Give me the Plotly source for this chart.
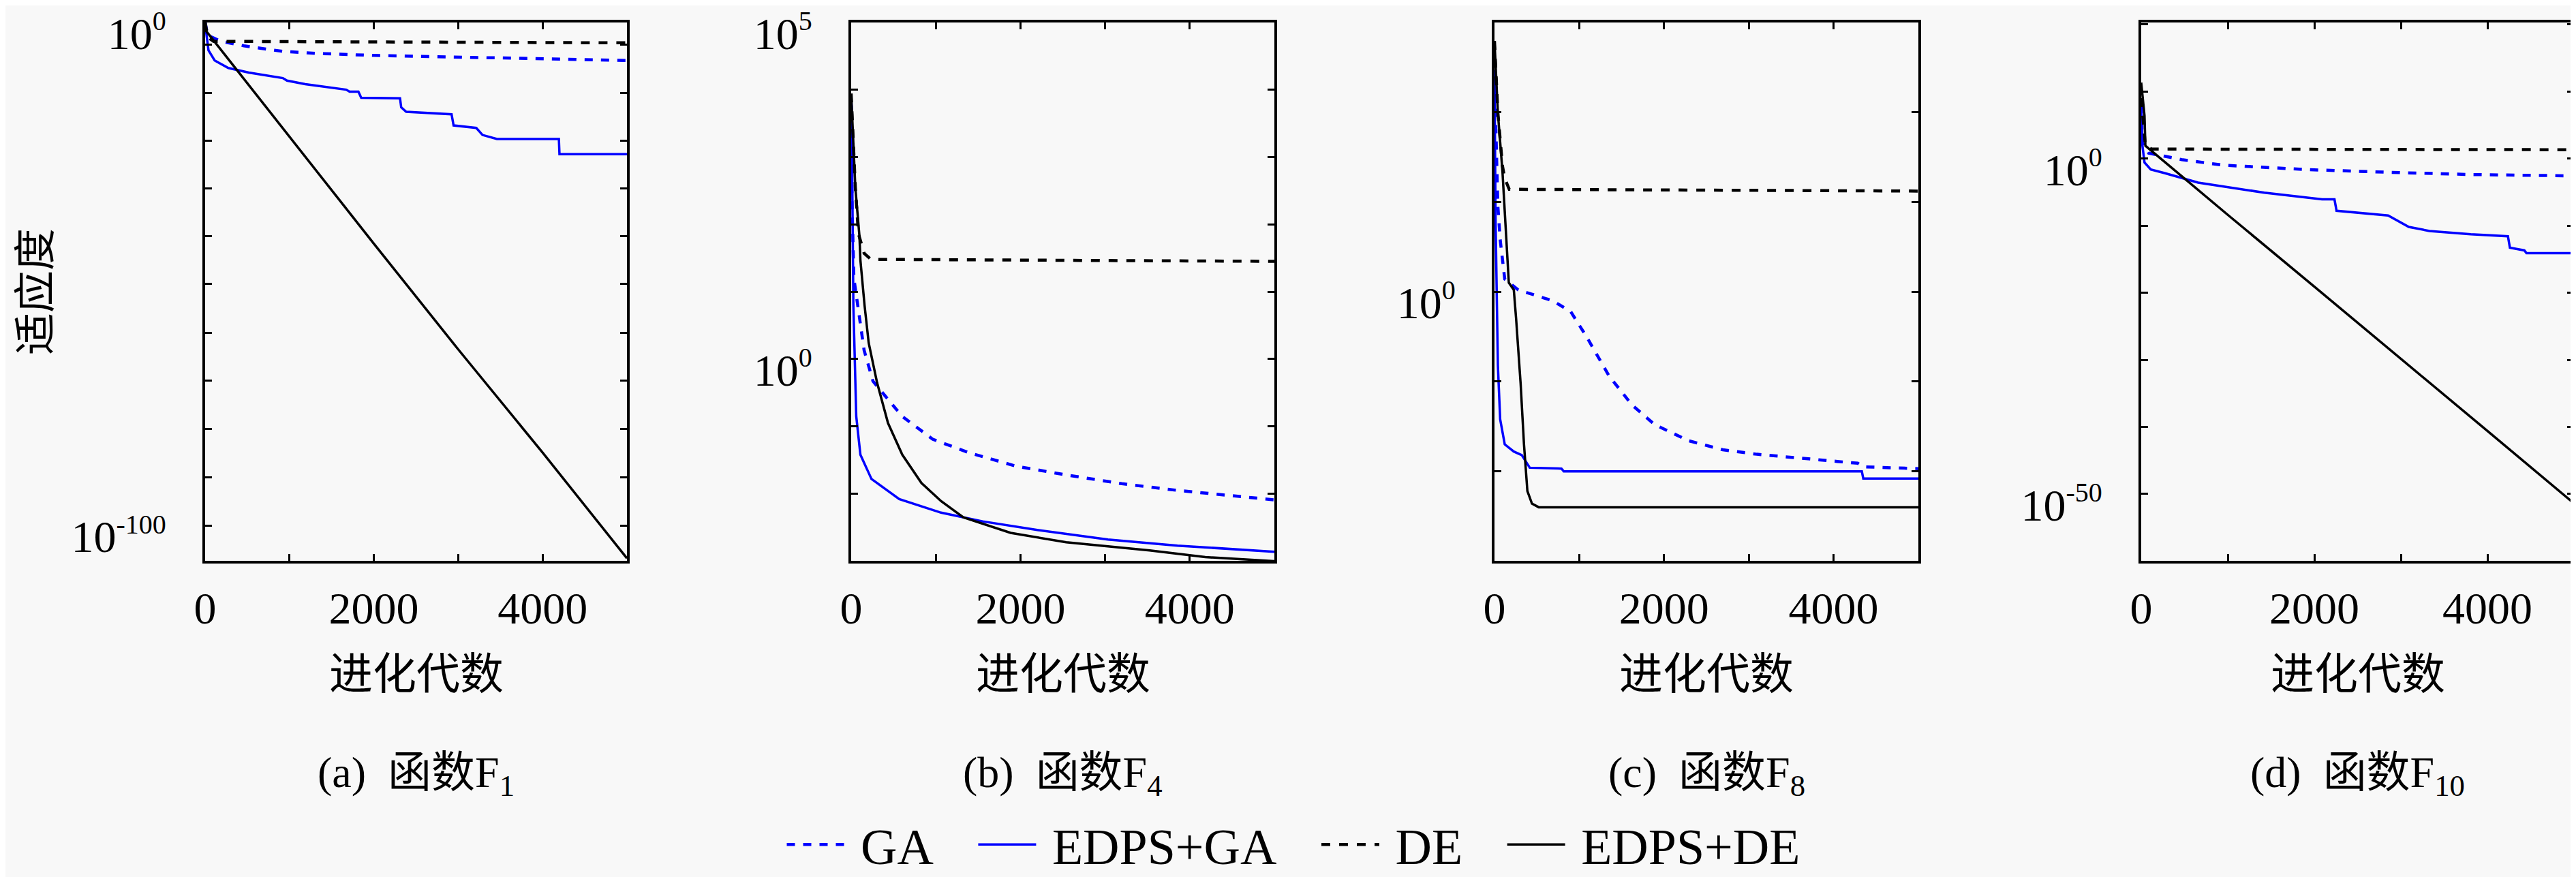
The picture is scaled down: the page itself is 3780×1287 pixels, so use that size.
import plotly.graph_objects as go
from plotly.subplots import make_subplots

# 收敛曲线, 纵坐标按 log10(适应度) 从原图读出
# (a) 函数F1
a_ga_x = [0, 30, 190, 460, 920, 1330, 2000, 3000, 4000, 5000]
a_ga_e = [0, -2.6, -3.8, -4.7, -5.8, -6.2, -6.6, -6.9, -7.2, -7.6]
a_edga_x = [0, 40, 113, 275, 517, 921, 970, 1187, 1672, 1712, 1817, 1850, 2310, 2324,
            2383, 2900, 2921, 2945, 3214, 3288, 3459, 4193, 4200, 5000]
a_edga_e = [-0.3, -5.6, -7.6, -9.1, -10.0, -11.1, -11.6, -12.3, -13.4, -13.8, -13.8, -15.0,
            -15.1, -16.9, -17.8, -18.3, -18.3, -20.5, -21.0, -22.4, -23.2, -23.2, -26.2, -26.2]
a_de_x = [0, 30, 100, 2500, 5000]
a_de_e = [0, -3.0, -3.8, -3.9, -4.1]
a_edde_x = [0, 1000, 2000, 3000, 4000, 5000]
a_edde_e = [-1.5, -22.8, -44.0, -65.0, -85.5, -106.5]

# (b) 函数F4
b_ga_x = [0, 10, 32, 86, 153, 258, 475, 602, 963, 1391, 1948, 2540, 3197, 3855, 4510, 5000]
b_ga_e = [3.8, 2.3, 1.20, 0.73, 0.13, -0.33, -0.65, -0.85, -1.19, -1.39, -1.59, -1.72,
          -1.85, -1.95, -2.03, -2.09]
b_edga_x = [0, 5, 26, 60, 109, 240, 568, 1062, 1554, 2212, 3034, 3855, 5000]
b_edga_e = [3.8, 3.75, 0.8, -0.85, -1.42, -1.78, -2.08, -2.28, -2.41, -2.54, -2.68, -2.77, -2.86]
b_de_x = [0, 49, 86, 153, 233, 5000]
b_de_e = [3.94, 2.55, 1.86, 1.57, 1.48, 1.45]
b_edde_x = [0, 49, 98, 109, 158, 207, 306, 435, 604, 830, 1063, 1325, 1884, 2540, 3527, 4184, 5000]
b_edde_e = [3.94, 2.55, 1.82, 1.47, 0.80, 0.24, -0.35, -0.95, -1.42, -1.84, -2.11, -2.35,
            -2.58, -2.72, -2.84, -2.94, -3.0]

# (c) 函数F8
c_ga_x = [0, 40, 67, 121, 281, 683, 898, 1085, 1353, 1621, 1889, 2291, 2693, 3095, 4044,
          4285, 4350, 5000]
c_ga_e = [2.4, 0.95, 0.58, 0.14, 0.02, -0.10, -0.22, -0.50, -0.94, -1.26, -1.48, -1.66,
          -1.76, -1.81, -1.89, -1.91, -1.95, -1.97]
c_edga_x = [0, 13, 40, 67, 121, 228, 322, 416, 790, 817, 4333, 4350, 5000]
c_edga_e = [2.47, 0.78, -0.82, -1.42, -1.70, -1.78, -1.82, -1.96, -1.97, -2.0, -2.0, -2.08, -2.08]
c_de_x = [0, 40, 94, 121, 174, 5000]
c_de_e = [2.79, 1.99, 1.40, 1.26, 1.14, 1.12]
c_edde_x = [0, 40, 94, 147, 169, 228, 255, 308, 348, 388, 442, 522, 5000]
c_edde_e = [2.79, 1.99, 1.34, 0.46, 0.10, 0.02, -0.30, -1.02, -1.70, -2.22, -2.36, -2.40, -2.40]

# (d) 函数F10
d_ga_x = [0, 14, 86, 468, 945, 1899, 2853, 3807, 5000]
d_ga_e = [8.0, 2.3, 0.8, -0.17, -1.0, -1.65, -2.06, -2.4, -2.6]
d_edga_x = [0, 14, 38, 110, 277, 658, 1422, 2090, 2233, 2257, 2853, 2948, 3092, 3330, 3807,
            4237, 4260, 4427, 4451, 5000]
d_edga_e = [8.4, 1.9, -0.6, -1.65, -2.2, -3.6, -5.1, -6.1, -6.1, -7.8, -8.5, -9.2, -10.2,
            -10.8, -11.3, -11.6, -13.3, -13.7, -14.1, -14.1]
d_de_x = [0, 29, 48, 120, 5000]
d_de_e = [9.0, 4.0, 1.9, 1.4, 1.3]
d_edde_x = [0, 38, 48, 1000, 2000, 3000, 4000, 5000]
d_edde_e = [11.3, 6.4, 1.9, -8.4, -19.1, -29.8, -40.6, -51.4]

series_names = ['GA', 'EDPS+GA', 'DE', 'EDPS+DE']
panel_caps = ['(a)\u00a0\u00a0函数F<sub>1</sub>', '(b)\u00a0\u00a0函数F<sub>4</sub>',
              '(c)\u00a0\u00a0函数F<sub>8</sub>', '(d)\u00a0\u00a0函数F<sub>10</sub>']

panels = [
    [(a_ga_x, a_ga_e), (a_edga_x, a_edga_e), (a_de_x, a_de_e), (a_edde_x, a_edde_e)],
    [(b_ga_x, b_ga_e), (b_edga_x, b_edga_e), (b_de_x, b_de_e), (b_edde_x, b_edde_e)],
    [(c_ga_x, c_ga_e), (c_edga_x, c_edga_e), (c_de_x, c_de_e), (c_edde_x, c_edde_e)],
    [(d_ga_x, d_ga_e), (d_edga_x, d_edga_e), (d_de_x, d_de_e), (d_edde_x, d_edde_e)],
]

# 纵轴范围 (log10) 与刻度
y_ranges = [[-107.06, 0], [-3, 5], [-3, 3], [-60, 20.3]]
y_ticks = [
    [0, -4.4, -14, -23.5, -33, -42.5, -52, -61.7, -71.2, -80.8, -90.4, -100],
    [5, 4, 3, 2, 1, 0, -1, -2, -3],
    [3, 2, 1, 0, -1, -2, -3],
    [20, 10, 0, -10, -20, -30, -40, -50, -60],
]


def pow_label(k):
    return '10<sup><span style="font-size:40px">%s</span></sup>' % k


y_labels = [{0: pow_label('0'), -100: pow_label('-100')},
            {5: pow_label('5'), 0: pow_label('0')},
            {0: pow_label('0')},
            {0: pow_label('0'), -50: pow_label('-50')}]

styles = [dict(color='#0000ff', width=4.5, dash='12px,12px'),
          dict(color='#0000ff', width=3.5),
          dict(color='#000000', width=4.5, dash='13px,13px'),
          dict(color='#000000', width=3.5)]

W, H = 3780, 1287
x_dom = [[293 / W, 912 / W], [1241 / W, 1862 / W], [2185 / W, 2807 / W], [3134 / W, 3769 / W]]
y_dom = [1 - 829 / H, 1 - 25 / H]

serif = 'Liberation Serif, Noto Sans CJK SC'
bg = '#f8f8f8'

fig = make_subplots(rows=1, cols=4)

for p, data in enumerate(panels):
    for s, (xs, es) in enumerate(data):
        # 图例文字前后留空, 拉开图例条目间距
        label = '\u00a0' + series_names[s] + ('\u00a0\u00a0\u00a0' if s < 3 else '')
        fig.add_trace(go.Scatter(
            x=xs, y=[10.0 ** e for e in es], mode='lines',
            name=label, line=styles[s], showlegend=(p == 0)
        ), row=1, col=p + 1)

    fig.update_xaxes(domain=x_dom[p], range=[0, 5000],
                     tickvals=[0, 1000, 2000, 3000, 4000, 5000],
                     ticktext=['0', '', '2000', '', '4000', ''],
                     row=1, col=p + 1)
    fig.update_yaxes(domain=y_dom, type='log', range=y_ranges[p],
                     tickvals=[10.0 ** t for t in y_ticks[p]],
                     ticktext=[y_labels[p].get(t, '') for t in y_ticks[p]],
                     row=1, col=p + 1)

    xc = (x_dom[p][0] + x_dom[p][1]) / 2
    fig.add_annotation(text='进化代数', x=xc, y=1 - 998 / H, xref='paper', yref='paper',
                       xanchor='center', yanchor='middle', showarrow=False,
                       font=dict(family=serif, size=64, color='black'))
    fig.add_annotation(text=panel_caps[p], x=xc, y=1 - 1149 / H, xref='paper', yref='paper',
                       xanchor='center', yanchor='middle', showarrow=False,
                       font=dict(family=serif, size=64, color='black'))

fig.add_annotation(text='适应度', x=45 / W, y=1 - 427 / H, xref='paper', yref='paper',
                   xanchor='center', yanchor='middle', textangle=-90, showarrow=False,
                   font=dict(family=serif, size=62, color='black'))

axis_style = dict(showgrid=False, zeroline=False, showline=True, linewidth=4, linecolor='black',
                  mirror='ticks', ticks='inside', ticklen=10, tickwidth=3, tickcolor='black',
                  automargin=False, ticklabeloverflow='allow',
                  tickfont=dict(family=serif, size=66, color='black'))
fig.update_xaxes(ticklabelstandoff=8, **axis_style)
fig.update_yaxes(ticklabelstandoff=40, ticklabelshift=16, **axis_style)

fig.update_layout(
    width=W, height=H,
    margin=dict(l=0, r=0, t=0, b=0),
    paper_bgcolor=bg, plot_bgcolor=bg,
    showlegend=True,
    legend=dict(orientation='h', x=0.5, xanchor='center', y=1 - 1252 / H, yanchor='middle',
                font=dict(family=serif, size=74, color='black'),
                itemwidth=85, bgcolor='rgba(0,0,0,0)'),
)

fig.write_html("out.html")
